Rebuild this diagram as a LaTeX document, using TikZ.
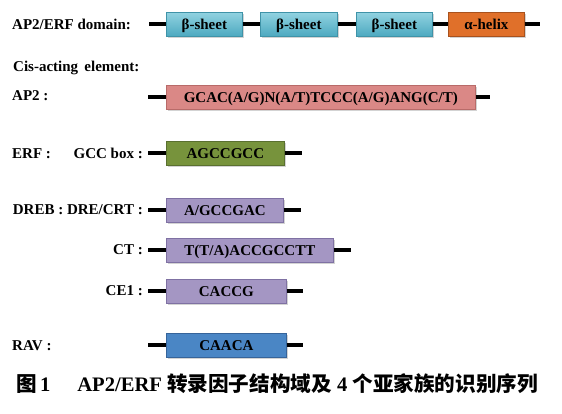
\documentclass[tikz,border=0pt]{standalone}
\usepackage{fontspec}
\setmainfont{Liberation Serif}
\newfontfamily\cjk{Noto Sans CJK SC}
\usetikzlibrary{shadows}
\definecolor{tealTop}{HTML}{92D3E1}
\definecolor{tealBot}{HTML}{4DA9C0}
\definecolor{tealBd}{HTML}{3F93A8}
\definecolor{orangeF}{HTML}{E0702A}
\definecolor{orangeBd}{HTML}{A8521E}
\definecolor{pinkF}{HTML}{DA8886}
\definecolor{pinkBd}{HTML}{B86B69}
\definecolor{greenF}{HTML}{77933C}
\definecolor{greenBd}{HTML}{5A7030}
\definecolor{purpleF}{HTML}{A496C3}
\definecolor{purpleBd}{HTML}{7F71A3}
\definecolor{blueF}{HTML}{4A86C5}
\definecolor{blueBd}{HTML}{36649A}
\begin{document}
\begin{tikzpicture}[x=1pt,y=-1pt,
  lbl/.style={font=\bfseries\fontsize{15}{15}\selectfont, inner sep=0pt},
  seg/.style={line width=4.5pt, line cap=butt},
  box/.style={draw, line width=0.7pt, inner sep=0pt, minimum height=24pt, anchor=west,
    text height=11.6pt, text depth=0.5pt,
    font=\bfseries\fontsize{15}{15}\selectfont,
    drop shadow={opacity=0.35, shadow xshift=1.5pt, shadow yshift=-1.8pt}},
  beta/.style={box, draw=tealBd, top color=tealTop, bottom color=tealBot, minimum width=76pt},
]
\useasboundingbox (0,0) rectangle (562,413);

% row 1: domain
\node[lbl, anchor=west] (ldom) at (12,24) {AP2/ERF domain:};
\coordinate (s1) at (149,24);
\coordinate (e1) at (540,24);
\node[beta] (b1) at (166,24) {β-sheet};
\node[beta, minimum width=77pt] (b2) at (260,24) {β-sheet};
\node[beta] (b3) at (356,24) {β-sheet};
\node[box, draw=orangeBd, fill=orangeF, minimum width=76pt] (b4) at (448,24) {α-helix};
\draw[seg] (s1) -- (b1.west);
\draw[seg] (b1.east) -- (b2.west);
\draw[seg] (b2.east) -- (b3.west);
\draw[seg] (b3.east) -- (b4.west);
\draw[seg] (b4.east) -- (e1);

\node[lbl, anchor=west] (lcis) at (13,68) {Cis-acting \,element:};

% AP2
\node[lbl, anchor=west] (lap2) at (12,96) {AP2 :};
\coordinate (s2) at (148,97);
\coordinate (e2) at (490,97);
\node[box, draw=pinkBd, fill=pinkF, minimum width=309pt] (ap2) at (166,97) {GCAC(A/G)N(A/T)TCCC(A/G)ANG(C/T)};
\draw[seg] (s2) -- (ap2.west);
\draw[seg] (ap2.east) -- (e2);

% ERF
\node[lbl, anchor=west] (lerf) at (12,154) {ERF :};
\node[lbl, anchor=east] (lgcc) at (143,153) {GCC box :};
\coordinate (s3) at (148,153);
\coordinate (e3) at (302,153);
\node[box, draw=greenBd, fill=greenF, minimum width=118pt] (gcc) at (166,153) {AGCCGCC};
\draw[seg] (s3) -- (gcc.west);
\draw[seg] (gcc.east) -- (e3);

% DREB
\node[lbl, anchor=east] (ldreb) at (143,210) {DREB : DRE/CRT :};
\coordinate (s4) at (148,210);
\coordinate (e4) at (301,210);
\node[box, draw=purpleBd, fill=purpleF, minimum width=117pt] (dre) at (166,210) {A/GCCGAC};
\draw[seg] (s4) -- (dre.west);
\draw[seg] (dre.east) -- (e4);

% CT
\node[lbl, anchor=east] (lct) at (143,250) {CT :};
\coordinate (s5) at (148,250);
\coordinate (e5) at (351,250);
\node[box, draw=purpleBd, fill=purpleF, minimum width=167pt] (ct) at (166,250) {T(T/A)ACCGCCTT};
\draw[seg] (s5) -- (ct.west);
\draw[seg] (ct.east) -- (e5);

% CE1
\node[lbl, anchor=east] (lce) at (143,291) {CE1 :};
\coordinate (s6) at (148,291);
\coordinate (e6) at (303,291);
\node[box, draw=purpleBd, fill=purpleF, minimum width=120pt] (ce) at (166,291) {CACCG};
\draw[seg] (s6) -- (ce.west);
\draw[seg] (ce.east) -- (e6);

% RAV
\node[lbl, anchor=west] (lrav) at (12,346) {RAV :};
\coordinate (s7) at (148,345);
\coordinate (e7) at (303,345);
\node[box, draw=blueBd, fill=blueF, minimum width=120pt] (rav) at (166,345) {CAACA};
\draw[seg] (s7) -- (rav.west);
\draw[seg] (rav.east) -- (e7);

% caption
\node[anchor=west, inner sep=0pt, font=\bfseries\fontsize{20.6}{20.6}\selectfont] (cap) at (16,384)
  {{\cjk 图}\,1\hspace{1.3em}AP2/ERF {\cjk 转录因子结构域及} 4 {\cjk 个亚家族的识别序列}};
\end{tikzpicture}
\end{document}
